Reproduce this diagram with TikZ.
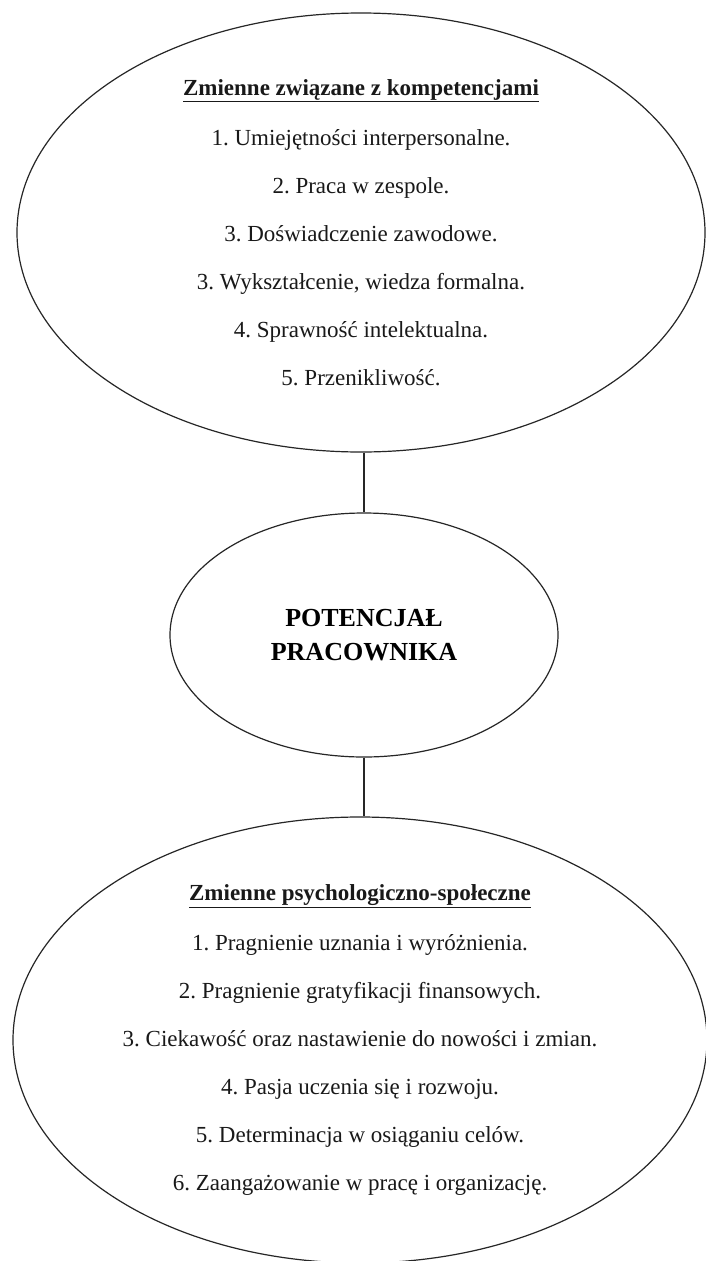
\documentclass[tikz,border=0pt]{standalone}
\usepackage{fontspec}
\setmainfont{Liberation Serif}
\usetikzlibrary{shapes.geometric}
\frenchspacing
\begin{document}
\begin{tikzpicture}[x=1pt,y=-1pt,
  oval/.style={draw=black!85, line width=1.2pt, ellipse, inner sep=0pt},
  listtext/.style={align=center, font=\frenchspacing\fontsize{23}{48}\selectfont, text=black!90, inner sep=0pt},
  hubtext/.style={align=center, font=\bfseries\fontsize{26}{34}\selectfont, text=black, inner sep=0pt},
  link/.style={draw=black!85, line width=1.2pt}]
\useasboundingbox[fill=white] (0,0) rectangle (705,1261);

\node[oval, minimum width=688pt, minimum height=439pt] (top) at (361,232.5) {};
\node[oval, minimum width=388pt, minimum height=244pt] (mid) at (364,635) {};
\node[oval, minimum width=694pt, minimum height=446pt] (bot) at (360,1040) {};

\node[listtext] (toptext) at (top.center) {%
  \textbf{\underline{Zmienne związane z kompetencjami}}\\[2pt]
  1. Umiejętności interpersonalne.\\
  2. Praca w zespole.\\
  3. Doświadczenie zawodowe.\\
  3. Wykształcenie, wiedza formalna.\\
  4. Sprawność intelektualna.\\
  5. Przenikliwość.};

\node[hubtext] (midtext) at (mid.center) {POTENCJAŁ\\PRACOWNIKA};

\node[listtext] (bottext) at (bot.center) {%
  \textbf{\underline{Zmienne psychologiczno-społeczne}}\\[2pt]
  1. Pragnienie uznania i wyróżnienia.\\
  2. Pragnienie gratyfikacji finansowych.\\
  3. Ciekawość oraz nastawienie do nowości i zmian.\\
  4. Pasja uczenia się i rozwoju.\\
  5. Determinacja w osiąganiu celów.\\
  6. Zaangażowanie w pracę i organizację.};

\draw[link] (mid.north |- top.south) -- (mid.north);
\draw[link] (mid.south) -- (mid.south |- bot.north);
\end{tikzpicture}
\end{document}
